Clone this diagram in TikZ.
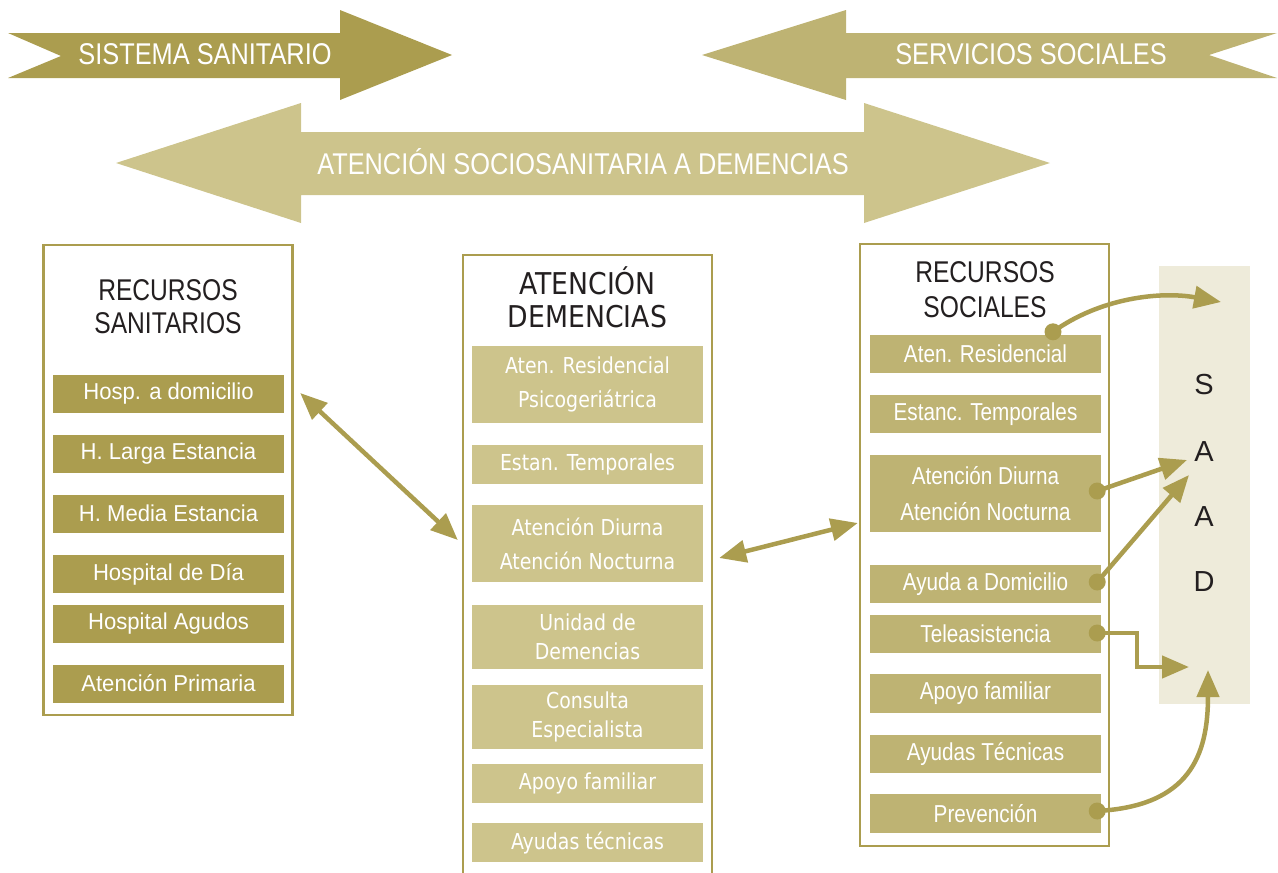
\documentclass[tikz,border=0pt]{standalone}
\usepackage{fontspec}
\setmainfont{Liberation Sans}
\newfontfamily\condf[FakeStretch=0.845]{Liberation Sans}
\newfontfamily\titlef[FakeStretch=0.82]{Liberation Sans}
\newfontfamily\leftf[FakeStretch=0.96]{Liberation Sans}
\newfontfamily\midf[FakeStretch=0.86]{DejaVu Sans}
\newfontfamily\midtitlef[FakeStretch=0.89]{DejaVu Sans}
\usetikzlibrary{arrows.meta,calc}
\definecolor{olive}{HTML}{AB9D4F}
\definecolor{oliveM}{HTML}{BEB373}
\definecolor{oliveL}{HTML}{CDC48C}
\definecolor{saadbg}{HTML}{EEEBDA}
\definecolor{ink}{HTML}{231F20}
\begin{document}
\begin{tikzpicture}[x=1pt,y=-1pt,
  bigtext/.style={text=white, inner sep=0pt, font=\condf\fontsize{30}{32}\selectfont},
  titletext/.style={text=ink, inner sep=0pt, align=center, font=\titlef\fontsize{30}{33}\selectfont},
  litem/.style={fill=olive, text=white, minimum width=231pt, minimum height=38pt, inner sep=0pt, font=\leftf\fontsize{23}{26}\selectfont},
  mitem/.style={fill=oliveL, text=white, minimum width=231pt, inner sep=0pt, align=center, font=\midf\fontsize{22}{34}\selectfont},
  ritem/.style={fill=oliveM, text=white, minimum width=231pt, inner sep=0pt, align=center, font=\condf\fontsize{24.5}{36}\selectfont},
  boxframe/.style={draw=olive, line width=2.5pt, inner sep=0pt},
  conn/.style={draw=olive, line width=4.5pt, -{Triangle[length=27pt,width=22pt]}},
  dconn/.style={draw=olive, line width=4.5pt, {Triangle[length=27pt,width=22pt]}-{Triangle[length=27pt,width=22pt]}},
  dotm/.style={circle, fill=olive, minimum size=17pt, inner sep=0pt},
  saadletter/.style={text=ink, inner sep=0pt, font=\fontsize{29}{30}\selectfont}
]
\useasboundingbox (0,0) rectangle (1278,873);

% top arrows
\fill[olive] (8,33) -- (340,33) -- (340,10) -- (452,55) -- (340,100) -- (340,78) -- (8,78) -- (61,56) -- cycle;
\node[bigtext] (a1) at (205,54) {SISTEMA SANITARIO};
\fill[oliveM] (702,55) -- (846,10) -- (846,33) -- (1277,33) -- (1209,55) -- (1277,78) -- (846,78) -- (846,100) -- cycle;
\node[bigtext] (a2) at (1031,54) {SERVICIOS SOCIALES};
\fill[oliveL] (116,163) -- (301,103) -- (301,132) -- (864,132) -- (864,103) -- (1050,163) -- (864,223) -- (864,195) -- (301,195) -- (301,223) -- cycle;
\node[bigtext] (a3) at (583,162) {ATENCIÓN SOCIOSANITARIA A DEMENCIAS};

% left box
\node[boxframe, minimum width=249pt, minimum height=470pt] (lbox) at (168,480) {};
\node[titletext] (lt) at (168,307) {RECURSOS\\SANITARIOS};
\node[litem] (ls1) at (168.5,394) {Hosp. a domicilio};
\node[litem] (ls2) at (168.5,454) {H. Larga Estancia};
\node[litem] (ls3) at (168.5,513.5) {H. Media Estancia};
\node[litem] (ls4) at (168.5,574) {Hospital de Día};
\node[litem] (ls5) at (168.5,624) {Hospital Agudos};
\node[litem] (ls6) at (168.5,683.5) {Atención Primaria};

% middle box
\draw[olive, line width=2.5pt] (463,873) |- (712,255) -- (712,873);
\node[titletext, font=\midtitlef\fontsize{30}{33}\selectfont] (mt) at (587.5,297) {ATENCIÓN\\DEMENCIAS};
\node[mitem, minimum height=77pt] (md1) at (587.5,384.5) {Aten. Residencial\\Psicogeriátrica};
\node[mitem, minimum height=39pt] (md2) at (587.5,464.5) {Estan. Temporales};
\node[mitem, minimum height=77pt] (md3) at (587.5,543.5) {Atención Diurna\\Atención Nocturna};
\node[mitem, minimum height=64pt, font=\midf\fontsize{22}{29}\selectfont] (md4) at (587.5,637) {Unidad de\\Demencias};
\node[mitem, minimum height=64pt, font=\midf\fontsize{22}{29}\selectfont] (md5) at (587.5,717) {Consulta\\Especialista};
\node[mitem, minimum height=39pt] (md6) at (587.5,783.5) {Apoyo familiar};
\node[mitem, minimum height=39pt] (md7) at (587.5,842.5) {Ayudas técnicas};

% SAAD panel
\node[fill=saadbg, minimum width=91pt, minimum height=438pt, inner sep=0pt] (saad) at (1204.5,485) {};
\node[saadletter] (s1) at (1204,384.5) {S};
\node[saadletter] (s2) at (1204,452) {A};
\node[saadletter] (s3) at (1204,517) {A};
\node[saadletter] (s4) at (1204,582) {D};

% right box
\node[boxframe, minimum width=249pt, minimum height=602pt] (rbox) at (984.5,545) {};
\node[titletext, font=\titlef\fontsize{30}{35}\selectfont] (rt) at (985,290) {RECURSOS\\SOCIALES};
\node[ritem, minimum height=38pt] (rs1) at (985.5,354) {Aten. Residencial};
\node[ritem, minimum height=38pt] (rs2) at (985.5,414) {Estanc. Temporales};
\node[ritem, minimum height=77pt] (rs3) at (985.5,493.5) {Atención Diurna\\Atención Nocturna};
\node[ritem, minimum height=38pt] (rs4) at (985.5,584) {Ayuda a Domicilio};
\node[ritem, minimum height=38pt] (rs5) at (985.5,634) {Teleasistencia};
\node[ritem, minimum height=39pt] (rs6) at (985.5,693.5) {Apoyo familiar};
\node[ritem, minimum height=38pt] (rs7) at (985.5,754) {Ayudas Técnicas};
\node[ritem, minimum height=39pt] (rs8) at (985.5,813.5) {Prevención};

% double arrows between columns
\draw[dconn] ([xshift=16pt,yshift=1pt]ls1.east) -- ([xshift=-14pt,yshift=3.5pt]md3.west);
\draw[dconn] ([xshift=16pt,yshift=-14.5pt]md3.east) -- ([xshift=-12pt,yshift=-29.5pt]rs3.west);

% connectors to SAAD
\coordinate (t1) at (1221,302);
\coordinate (t2) at (1187,460);
\coordinate (t3) at (1189,475);
\coordinate (t4) at (1189,667);
\coordinate (t5) at (1208,670);
\node[dotm] (d1) at ([xshift=67.5pt,yshift=3pt]rs1.north) {};
\node[dotm] (d2) at ([xshift=-4pt,yshift=2.5pt]rs3.east) {};
\node[dotm] (d3) at ([xshift=-4pt,yshift=2pt]rs4.east) {};
\node[dotm] (d4) at ([xshift=-4pt,yshift=1pt]rs5.east) {};
\node[dotm] (d5) at ([xshift=-4pt,yshift=2.5pt]rs8.east) {};
\draw[conn] (d1.center) .. controls (1100,298) and (1160,291) .. (t1);
\draw[conn] (d2.center) -- (t2);
\draw[conn] (d3.center) -- (t3);
\draw[conn] (d4.center) -- ++(40,0) |- (t4);
\draw[conn] (d5.center) .. controls (1190,806) and (1208,755) .. (t5);
\end{tikzpicture}
\end{document}
